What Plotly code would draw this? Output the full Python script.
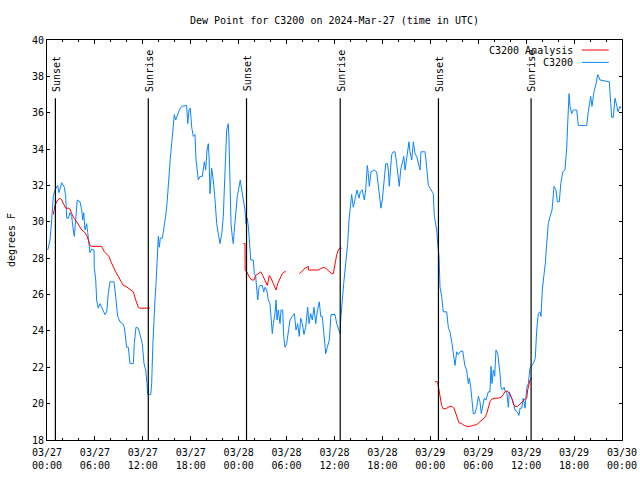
import plotly.graph_objects as go
import pandas as pd

BASE = pd.Timestamp("2024-03-27 00:00")

# C3200 observations: hours after 03/27 00:00 UTC, dew point (F)
obs_hours = [0.09, 0.38, 0.59, 0.79, 1.0, 1.34, 1.5, 1.84, 2.17, 2.34, 2.47, 2.67, 2.88, 3.09, 3.29, 3.42,
             3.59, 3.79, 4.13, 4.35, 4.47, 4.6, 4.76, 4.97, 5.1, 5.26, 5.38, 5.6, 5.89, 5.92, 6.1, 6.22,
             6.42, 6.64, 6.85, 7.05, 7.26, 7.48, 7.68, 7.89, 8.39, 8.6, 8.85, 9.14, 9.48, 9.68, 9.85, 9.98,
             10.18, 10.36, 10.39, 10.81, 10.93, 11.14, 11.43, 11.65, 11.93, 12.15, 12.36, 12.52, 12.61, 12.99,
             13.11, 13.24, 13.36, 13.52, 13.65, 13.77, 13.94, 14.06, 14.19, 14.44, 14.69, 14.86, 15.03, 15.15,
             15.28, 15.44, 15.61, 15.78, 15.94, 16.12, 16.32, 16.57, 16.87, 17.49, 17.62, 17.78, 17.94, 18.12,
             18.32, 18.53, 18.66, 18.82, 18.95, 19.16, 19.45, 19.7, 19.87, 20.04, 20.2, 20.29, 20.41, 20.62,
             20.82, 21.04, 21.25, 21.45, 21.66, 21.88, 22.08, 22.2, 22.38, 22.5, 22.7, 22.79, 22.92, 23.04,
             23.2, 23.33, 23.45, 23.67, 23.83, 24.04, 24.2, 24.38, 24.58, 24.79, 24.92, 25.08, 25.21, 25.33,
             25.51, 25.83, 25.96, 26.13, 26.26, 26.38, 26.55, 26.67, 26.96, 27.14, 27.3, 27.51, 27.71, 27.92,
             28.05, 28.21, 28.34, 28.55, 28.68, 28.8, 28.96, 29.18, 29.3, 29.51, 29.64, 29.8, 30.01, 30.22,
             30.43, 30.72, 30.97, 31.18, 31.39, 31.59, 31.77, 31.97, 32.18, 32.39, 32.64, 32.81, 33.02, 33.22,
             33.43, 33.65, 33.85, 34.1, 34.27, 34.47, 34.69, 34.9, 35.1, 35.35, 35.56, 36.06, 36.28, 36.48,
             36.69, 36.81, 36.98, 37.15, 37.32, 37.48, 37.65, 37.82, 37.98, 38.15, 38.35, 38.57, 38.82, 39.07,
             39.23, 39.48, 39.73, 39.91, 40.11, 40.23, 40.36, 40.57, 40.98, 41.28, 41.48, 41.7, 41.82, 41.99,
             42.16, 42.41, 42.61, 42.74, 42.86, 42.99, 43.16, 43.36, 43.58, 43.79, 43.99, 44.11, 44.29, 44.49,
             44.67, 44.83, 45.04, 45.17, 45.33, 45.45, 45.67, 45.87, 46.08, 46.29, 46.49, 46.71, 46.83, 47.33,
             47.46, 47.58, 47.75, 47.96, 48.17, 48.37, 48.5, 48.67, 48.8, 48.92, 49.09, 49.21, 49.42, 49.62,
             50.05, 50.25, 50.46, 50.68, 50.88, 51.09, 51.3, 51.5, 51.72, 52.05, 52.34, 52.55, 52.76, 52.88,
             53.06, 53.22, 53.38, 53.59, 53.81, 54.01, 54.22, 54.38, 54.56, 54.76, 54.97, 55.26, 55.47, 55.6,
             55.72, 55.89, 56.06, 56.22, 56.44, 56.6, 56.72, 56.85, 57.01, 57.23, 57.39, 57.57, 57.77, 57.89,
             58.06, 58.31, 58.6, 58.89, 59.1, 59.23, 59.44, 59.64, 59.86, 60.07, 60.27, 60.48, 60.69, 60.89,
             61.14, 61.32, 61.52, 61.73, 61.86, 62.02, 62.23, 62.4, 62.57, 62.77, 62.99, 63.24, 63.49, 63.74,
             63.9, 64.15, 64.33, 64.58, 64.86, 65.08, 65.2, 65.37, 65.49, 65.7, 65.9, 66.33, 66.53, 67.58,
             67.78, 68.08, 68.24, 68.49, 68.75, 68.96, 69.25, 70.41, 70.59, 70.71, 70.91, 71.12, 71.34, 71.5,
             71.75, 71.87]
obs_dewpt = [28.45, 29.0, 30.1, 31.4, 31.75, 32.0, 31.6, 32.15, 31.9, 31.4, 30.2, 30.2, 30.5, 30.3, 29.55, 29.2,
             30.1, 31.2, 31.1, 30.65, 30.1, 30.5, 29.55, 29.9, 29.4, 28.8, 28.3, 28.5, 28.45, 27.5, 26.8, 25.7,
             25.25, 25.5, 25.3, 25.15, 24.9, 25.05, 26.1, 26.7, 26.7, 25.9, 24.8, 24.5, 24.4, 24.2, 23.7, 23.1,
             23.1, 22.5, 22.2, 22.2, 23.3, 24.2, 24.15, 23.8, 23.3, 22.2, 21.85, 21.1, 20.5, 20.5,
             21.1, 23.1, 24.7, 25.7, 26.6, 27.7, 29.2, 28.6, 29.1, 29.1, 29.75, 30.3, 31.0, 31.85,
             32.65, 33.5, 34.3, 35.3, 35.9, 35.6, 35.9, 36.15, 36.35, 36.4, 35.4, 36.15, 36.25, 35.2,
             34.7, 34.8, 33.4, 32.85, 32.3, 32.5, 32.5, 33.3, 32.85, 33.95, 34.3, 33.6, 31.55, 32.95,
             32.3, 31.2, 29.9, 29.35, 28.8, 29.35, 30.3, 31.75, 33.6, 35.05, 35.4, 34.5, 32.1, 29.9,
             29.2, 28.8, 29.55, 30.9, 31.4, 31.9, 32.3, 31.75, 31.2, 30.65, 29.9, 30.2, 29.75, 28.8,
             27.9, 27.9, 27.15, 27.0, 26.25, 25.7, 26.4, 26.5, 26.5, 26.15, 26.4, 26.25, 25.7, 25.5,
             24.8, 23.85, 24.4, 24.95, 25.7, 24.6, 25.15, 24.4, 25.15, 25.15, 23.7, 23.1, 23.3, 24.05,
             24.6, 24.8, 24.95, 24.05, 24.4, 23.7, 24.7, 24.4, 23.8, 24.2, 25.3, 24.4, 24.95, 24.6,
             25.3, 24.4, 25.1, 25.6, 24.8, 24.8, 23.85, 22.75, 23.1, 23.5, 24.9, 24.9, 24.4, 24.05,
             23.85, 24.8, 25.9, 26.6, 27.35, 27.9, 28.8, 30.1, 31.0, 31.5, 30.8, 31.2, 31.75, 31.3,
             31.65, 31.75, 31.2, 31.75, 33.1, 32.65, 31.95, 32.75, 32.85, 32.75, 32.1, 31.2, 30.75, 31.2,
             31.95, 33.2, 33.2, 32.85, 31.95, 32.65, 33.7, 33.85, 33.85, 33.2, 32.3, 31.95, 32.85, 33.3,
             33.6, 32.85, 33.5, 33.95, 34.4, 33.85, 33.4, 34.4, 33.75, 33.6, 33.2, 32.85, 33.85, 33.85,
             33.4, 32.65, 32.0, 31.85, 31.65, 31.55, 30.3, 29.9, 29.55, 28.8, 28.1, 26.4, 25.9, 25.05,
             25.05, 24.2, 23.95, 23.4, 22.85, 22.1, 22.85, 22.7, 22.85, 22.9, 22.05, 21.85, 21.1, 21.4,
             20.9, 20.2, 19.45, 19.45, 19.8, 20.4, 20.1, 19.45, 19.8, 20.3, 20.2, 20.65, 20.65, 22.05,
             21.1, 21.85, 21.5, 22.95, 22.75, 22.2, 21.65, 20.9, 20.75, 20.9, 20.65, 20.65, 19.8, 20.65,
             20.4, 20.2, 19.65, 19.55, 19.35, 19.75, 19.75, 20.3, 19.75, 20.85, 21.1, 21.95, 22.05, 22.2,
             22.5, 24.05, 24.95, 25.05, 24.8, 26.25, 27.1, 27.7, 28.8, 29.9, 30.3, 30.65, 31.95, 31.75,
             31.1, 31.1, 32.1, 32.75, 32.85, 34.1, 35.4, 37.05, 36.35, 35.95, 36.15, 36.15, 35.3, 35.3,
             36.05, 36.9, 36.35, 37.15, 37.6, 38.1, 37.8, 37.7, 36.5, 35.75, 35.75, 36.8, 36.4, 36.05,
             36.35, 36.25]

# C3200 Analysis (None = gap)
ana_hours = [0.79, 1.0, 1.34, 1.63, 1.84, 2.04, 2.34, 2.67, 2.88, 3.09, 3.38, 3.72, 4.04, 4.35, 4.67, 4.97,
             5.17, 5.38, 5.6, 6.85, 7.18, 7.48, 7.76, 8.01, 8.3, 8.6, 8.93, 9.27, 9.55, 9.89, 10.18, 10.81,
             11.11, 11.43, 11.65, 12.9, None,
             24.58, 24.79, 24.81, 25.01, 25.29, 25.63, 25.92, 26.13, 26.46, 26.76, 27.01, 27.3, 27.59, 27.84,
             28.05, 28.34, 28.68, 28.89, 29.18, 29.46, 29.68, 29.89, None,
             31.59, 31.89, 32.18, 32.52, 32.72, 32.74, 33.35, 33.97, 34.4, 34.72, 35.02, 35.35, 35.65, 35.85,
             36.06, 36.28, 36.48, 36.69, 36.9, None,
             48.58, 48.92, 49.0, 49.21, 49.42, 49.62, 50.05, 50.46, 50.68, 50.96, 51.18, 51.38, 51.59, 51.93,
             52.25, 52.59, 52.97, 53.38, 53.81, 54.22, 54.63, 54.85, 55.06, 55.26, 55.47, 55.69, 56.1, 56.51,
             56.85, 57.14, 57.35, 57.57, 57.77, 57.98, 58.19, 58.39, 58.6, 58.94, 59.23, 59.52, 59.86, 60.07,
             60.19, 60.36, 60.48, 60.69]
ana_dewpt = [30.4, 30.9, 31.2, 31.3, 31.2, 31.0, 30.75, 30.75, 30.7, 30.45, 30.2, 30.0, 29.75, 29.55, 29.45, 29.25,
             29.0, 28.7, 28.65, 28.65, 28.35, 28.2, 28.1, 27.8, 27.5, 27.25, 27.0, 26.7, 26.5, 26.45, 26.35, 26.15,
             25.7, 25.3, 25.25, 25.25, None,
             28.8, 28.8, 27.35, 27.25, 27.0, 26.8, 26.8, 27.05, 27.15, 27.25, 27.05, 26.8, 26.5, 27.05,
             26.9, 26.6, 26.25, 26.6, 26.9, 27.15, 27.25, 27.25, None,
             27.15, 27.25, 27.4, 27.5, 27.55, 27.35, 27.35, 27.35, 27.45, 27.5, 27.4, 27.25, 27.15, 27.15,
             27.7, 28.2, 28.45, 28.55, 28.55, None,
             21.2, 21.2, 20.95, 20.4, 19.9, 19.7, 19.75, 19.85, 19.85, 19.75, 19.45, 19.2, 18.95, 18.9,
             18.8, 18.75, 18.75, 18.8, 18.85, 19.0, 19.2, 19.25, 19.45, 19.8, 20.1, 20.25, 20.3, 20.3,
             20.35, 20.5, 20.65, 20.7, 20.65, 20.5, 20.3, 20.0, 19.85, 19.85, 19.95, 20.1, 20.25, 20.3,
             20.75, 21.0, 21.3, 21.4]

sun_events = ["Sunset", "Sunrise", "Sunset", "Sunrise", "Sunset", "Sunrise"]
sun_times = ["2024-03-27 01:03", "2024-03-27 12:41", "2024-03-28 00:59",
             "2024-03-28 12:43", "2024-03-29 01:01", "2024-03-29 12:37"]

tick_vals = ["2024-03-27 00:00", "2024-03-27 06:00", "2024-03-27 12:00", "2024-03-27 18:00",
             "2024-03-28 00:00", "2024-03-28 06:00", "2024-03-28 12:00", "2024-03-28 18:00",
             "2024-03-29 00:00", "2024-03-29 06:00", "2024-03-29 12:00", "2024-03-29 18:00",
             "2024-03-30 00:00"]
tick_text = ["03/27<br>00:00", "03/27<br>06:00", "03/27<br>12:00", "03/27<br>18:00",
             "03/28<br>00:00", "03/28<br>06:00", "03/28<br>12:00", "03/28<br>18:00",
             "03/29<br>00:00", "03/29<br>06:00", "03/29<br>12:00", "03/29<br>18:00",
             "03/30<br>00:00"]

def to_time(hours):
    return [None if h is None else BASE + pd.Timedelta(hours=h) for h in hours]

FONT = "DejaVu Sans Mono"
BLUE = "#0a84ff"
RED = "#ff0000"

fig = go.Figure()
fig.add_trace(go.Scatter(x=to_time(obs_hours), y=obs_dewpt, mode="lines",
                         line=dict(color=BLUE, width=1), name="C3200", connectgaps=False))
fig.add_trace(go.Scatter(x=to_time(ana_hours), y=ana_dewpt, mode="lines",
                         line=dict(color=RED, width=1), name="C3200 Analysis", connectgaps=False))

for ev, t in zip(sun_events, sun_times):
    fig.add_shape(type="line", xref="x", yref="y", x0=t, x1=t, y0=18, y1=36.8,
                  line=dict(color="black", width=1.2))
    fig.add_annotation(x=t, y=37.05, xref="x", yref="y", text=ev, textangle=-90,
                       showarrow=False, xanchor="center", yanchor="bottom", xshift=1,
                       font=dict(family=FONT, size=10, color="black"))

# legend (gnuplot style: text then line sample)
legend_items = [("C3200 Analysis", RED), ("C3200", BLUE)]
for i, (name, col) in enumerate(legend_items):
    yp = 0.975 - i * 0.031
    fig.add_annotation(x=0.918, y=yp, xref="paper", yref="paper", text=name, showarrow=False,
                       xanchor="right", yanchor="middle", font=dict(family=FONT, size=10, color="black"))
    fig.add_shape(type="line", xref="paper", yref="paper", x0=0.930, x1=0.977, y0=yp, y1=yp,
                  line=dict(color=col, width=1))

fig.update_layout(
    width=640, height=480,
    margin=dict(l=47, r=18, t=40, b=40),
    paper_bgcolor="white", plot_bgcolor="white",
    showlegend=False,
    font=dict(family=FONT, size=10, color="black"),
    title=dict(text="Dew Point for C3200 on 2024-Mar-27 (time in UTC)", x=0.5, xanchor="center",
               xref="paper", y=0.958, yanchor="middle", font=dict(family=FONT, size=10, color="black")),
)
fig.update_xaxes(
    range=["2024-03-27 00:00", "2024-03-30 00:00"],
    tickmode="array", tickvals=tick_vals, ticktext=tick_text,
    ticks="inside", ticklen=4, tickcolor="black", tickwidth=1,
    minor=dict(dtick=2 * 3600 * 1000, ticks="inside", ticklen=2, tickcolor="black", showgrid=False),
    showline=True, linecolor="black", linewidth=1, mirror="allticks",
    showgrid=False, zeroline=False, tickfont=dict(family=FONT, size=10), automargin=False,
    ticklabelstandoff=3,
)
fig.update_yaxes(
    range=[18, 40], dtick=2, tick0=18,
    ticks="inside", ticklen=3, tickcolor="black",
    showline=True, linecolor="black", linewidth=1, mirror="allticks",
    showgrid=False, zeroline=False, tickfont=dict(family=FONT, size=10), automargin=False,
    title=dict(text="degrees F", font=dict(family=FONT, size=10), standoff=14),
)

fig.write_html("out.html", config={"displayModeBar": False},
               post_script="document.body.style.margin='0px';document.body.style.padding='0px';")
